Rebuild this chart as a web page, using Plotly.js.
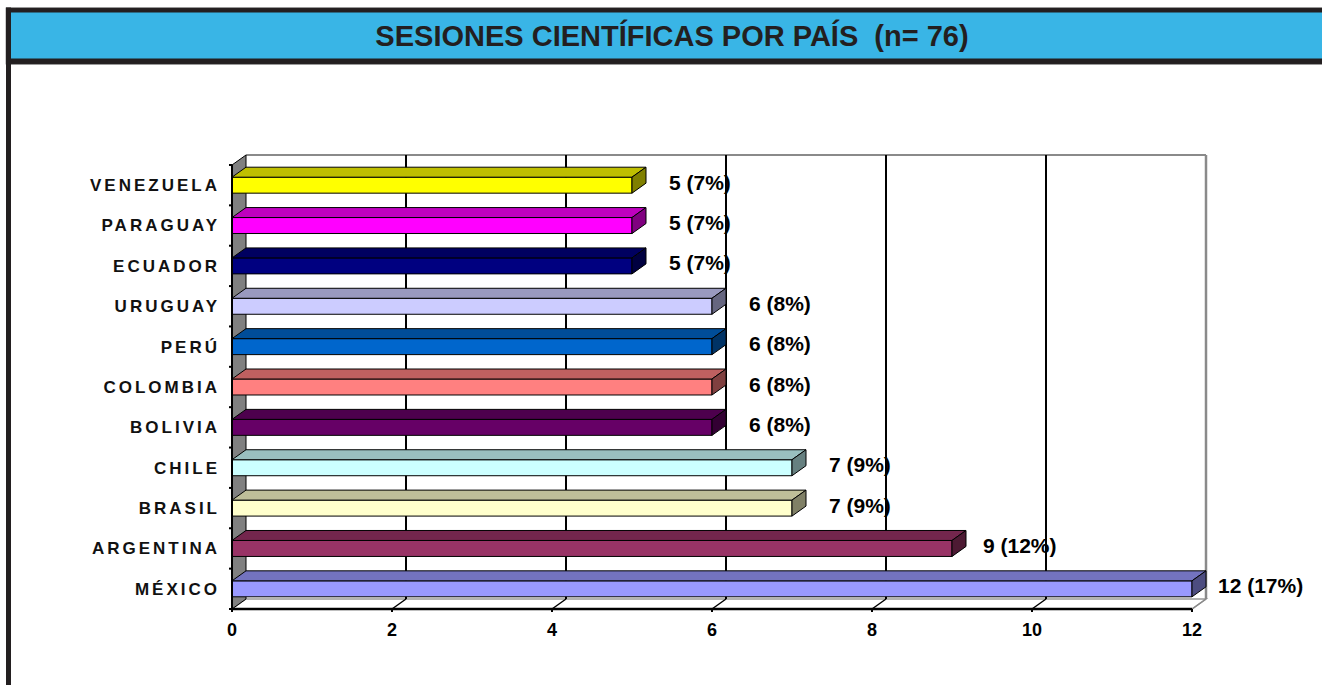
<!DOCTYPE html>
<html>
<head>
<meta charset="utf-8">
<script src="https://cdn.plot.ly/plotly-3.0.1.min.js"></script>
<style>
  html, body { margin: 0; padding: 0; background: #fff; }
  #chart { width: 1322px; height: 685px; }
  .ytick text { letter-spacing: 3px; }
</style>
</head>
<body>
<div id="chart"></div>
<script>
// ---- data (bottom to top) ----
const countries = ['MÉXICO', 'ARGENTINA', 'BRASIL', 'CHILE', 'BOLIVIA', 'COLOMBIA', 'PERÚ', 'URUGUAY', 'ECUADOR', 'PARAGUAY', 'VENEZUELA'];
const sessions  = [12, 9, 7, 7, 6, 6, 6, 6, 5, 5, 5];
const percents  = [17, 12, 9, 9, 8, 8, 8, 8, 7, 7, 7];
const barColors = ['#9999FF', '#993366', '#FFFFCC', '#CCFFFF', '#660066', '#FF8080', '#0066CC', '#CCCCFF', '#000080', '#FF00FF', '#FFFF00'];
const xTicks    = [0, 2, 4, 6, 8, 10, 12];
const titleText = 'SESIONES CIENTÍFICAS POR PAÍS&nbsp;&nbsp;(n= 76)';

// ---- geometry / style constants ----
const W = 1322, H = 685;
const X0PX = 232, Y0PX = 609;      // pixel position of front origin corner
const PPX = 80, PPY = 40.4;        // pixels per unit
const DXPX = 14, DYPX = 10;        // 3D depth offset in pixels
const PAD = 3;
const n = countries.length;
const xMax = Math.max(...xTicks);
const dx = DXPX / PPX, dy = DYPX / PPY;
const halfW = 0.198;
const xr = [-PAD / PPX, xMax + dx + PAD / PPX];
const yr = [-0.5 - PAD / PPY, n - 0.5 + dy + PAD / PPY];
const L = X0PX - PAD;
const pw = (xr[1] - xr[0]) * PPX;
const R = W - L - pw;
const B = H - Y0PX - PAD;
const ph = (yr[1] - yr[0]) * PPY;
const T = H - B - ph;
const fx = px => (px - L) / pw;
const fy = py => (H - B - py) / ph;
const yTop = n - 0.5 + dy, yBot = -0.5, yBack = -0.5 + dy;

function shade(hex, f) {
  const v = parseInt(hex.slice(1), 16);
  const r = Math.round(((v >> 16) & 255) * f), g = Math.round(((v >> 8) & 255) * f), b = Math.round((v & 255) * f);
  return `rgb(${r},${g},${b})`;
}

const idx = countries.map((_, i) => i);
const traces = [];
// front faces
traces.push({
  type: 'bar', orientation: 'h', y: idx, x: sessions, base: 0, width: 2 * halfW,
  marker: { color: barColors, line: { color: '#000', width: 1 } },
  hoverinfo: 'skip', showlegend: false
});
// top and side faces
idx.forEach(i => {
  const v = sessions[i];
  traces.push({
    type: 'scatter', mode: 'lines', fill: 'toself', fillcolor: shade(barColors[i], 0.75),
    x: [0, v, v + dx, dx, 0], y: [i + halfW, i + halfW, i + halfW + dy, i + halfW + dy, i + halfW],
    line: { color: '#000', width: 1 }, hoverinfo: 'skip', showlegend: false
  });
  traces.push({
    type: 'scatter', mode: 'lines', fill: 'toself', fillcolor: shade(barColors[i], 0.5),
    x: [v, v + dx, v + dx, v, v], y: [i - halfW, i - halfW + dy, i + halfW + dy, i + halfW, i - halfW],
    line: { color: '#000', width: 1 }, hoverinfo: 'skip', showlegend: false
  });
});

const shapes = [];
// frame / title band
shapes.push({ type: 'rect', xref: 'paper', yref: 'paper', x0: fx(6), x1: fx(W + 10), y0: fy(64), y1: fy(7), fillcolor: '#231f20', line: { width: 1, color: '#9a9a9a' }, layer: 'above' });
shapes.push({ type: 'rect', xref: 'paper', yref: 'paper', x0: fx(11), x1: fx(W + 10), y0: fy(58), y1: fy(12), fillcolor: '#39b5e6', line: { width: 0 }, layer: 'above' });
shapes.push({ type: 'rect', xref: 'paper', yref: 'paper', x0: fx(6), x1: fx(11), y0: fy(H + 10), y1: fy(7), fillcolor: '#231f20', line: { width: 0 }, layer: 'above' });

// floor
shapes.push({ type: 'path', xref: 'x', yref: 'y', layer: 'below',
  path: `M 0,${yBot} L ${xMax},${yBot} L ${xMax + dx},${yBack} L ${dx},${yBack} Z`,
  fillcolor: '#ffffff', line: { color: '#9a9a9a', width: 1.5 } });
// back wall border (top & right)
shapes.push({ type: 'line', xref: 'x', yref: 'y', layer: 'below', x0: dx, x1: xMax + dx, y0: yTop, y1: yTop, line: { color: '#8a8a8a', width: 2 } });
shapes.push({ type: 'line', xref: 'x', yref: 'y', layer: 'below', x0: xMax + dx, x1: xMax + dx, y0: yBack, y1: yTop, line: { color: '#8a8a8a', width: 2.5 } });
// gridlines on back wall + floor diagonals
xTicks.forEach(v => {
  if (v > 0 && v < xMax) {
    shapes.push({ type: 'line', xref: 'x', yref: 'y', layer: 'below', x0: v + dx, x1: v + dx, y0: yBack, y1: yTop, line: { color: '#000', width: 2 } });
  }
  if (v > 0) {
    shapes.push({ type: 'line', xref: 'x', yref: 'y', layer: 'below', x0: v, x1: v + dx, y0: yBot, y1: yBack, line: { color: v === xMax ? '#8a8a8a' : '#000', width: 1.5 } });
  }
  // front tick marks (downwards)
  shapes.push({ type: 'line', xref: 'x', yref: 'y', ysizemode: 'pixel', yanchor: yBot, x0: v, x1: v, y0: 0, y1: -8, line: { color: '#000', width: 2 } });
});
// left wall
shapes.push({ type: 'path', xref: 'x', yref: 'y', layer: 'below',
  path: `M 0,${yBot} L 0,${n - 0.5} L ${dx},${yTop} L ${dx},${yBack} Z`,
  fillcolor: '#808080', line: { color: '#000', width: 1 } });
// front axes lines
shapes.push({ type: 'line', xref: 'x', yref: 'y', x0: 0, x1: xMax, y0: yBot, y1: yBot, line: { color: '#000', width: 2.5 } });
shapes.push({ type: 'line', xref: 'x', yref: 'y', x0: 0, x1: 0, y0: yBot, y1: n - 0.5, line: { color: '#000', width: 2 } });
// category boundary ticks
for (let k = 0; k <= n; k++) {
  shapes.push({ type: 'line', xref: 'x', yref: 'y', xsizemode: 'pixel', xanchor: 0, x0: -6, x1: 0, y0: k - 0.5, y1: k - 0.5, line: { color: '#000', width: 2 } });
}

const annotations = idx.map(i => ({
  xref: 'x', yref: 'y', x: sessions[i], y: i, xanchor: 'center', yanchor: 'middle',
  xshift: 68, yshift: 3, showarrow: false,
  text: `<b>${sessions[i]} (${percents[i]}%)</b>`,
  font: { family: 'Liberation Sans, Arial, sans-serif', size: 21, color: '#000' }
}));

const layout = {
  width: W, height: H,
  margin: { l: L, r: R, t: T, b: B, pad: 0 },
  paper_bgcolor: '#ffffff', plot_bgcolor: 'rgba(0,0,0,0)',
  title: {
    text: titleText, xref: 'container', yref: 'container', x: 672 / W, y: 1 - 36 / H,
    xanchor: 'center', yanchor: 'middle',
    font: { family: 'Liberation Sans, Arial, sans-serif', size: 29, color: '#231f20', weight: 'bold' }
  },
  bargap: 0,
  xaxis: {
    range: xr, tickvals: xTicks, ticktext: xTicks.map(v => `<b>${v}</b>`),
    showgrid: false, zeroline: false, showline: false,
    ticks: '', ticklabelstandoff: 5,
    tickfont: { family: 'Liberation Sans, Arial, sans-serif', size: 18, color: '#000' },
    fixedrange: true
  },
  yaxis: {
    range: yr, tickvals: idx, ticktext: countries,
    showgrid: false, zeroline: false, showline: false, ticks: '', ticklabelstandoff: 8,
    tickfont: { family: 'Liberation Sans, Arial, sans-serif', size: 17, color: '#111', weight: 'bold' },
    fixedrange: true
  },
  shapes: shapes,
  annotations: annotations,
  showlegend: false
};

Plotly.newPlot('chart', traces, layout, { displayModeBar: false, staticPlot: true });
</script>
</body>
</html>
